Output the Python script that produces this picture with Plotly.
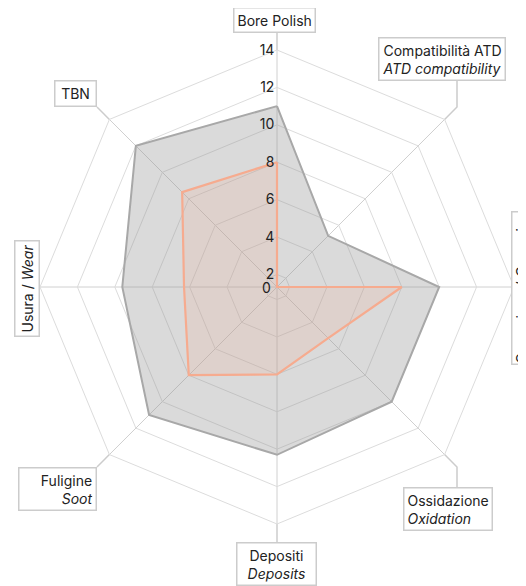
import plotly.graph_objects as go
import math

categories = ["Bore Polish", "Compatibilità ATD", "Corrosione", "Ossidazione",
              "Depositi", "Fuligine", "Usura", "TBN"]
series_gray = [11, 5.2, 10, 10, 10.3, 11, 9.6, 12]
series_orange = [8, 0, 8, 5.2, 6, 8, 6.3, 8.5]
radial_ticks = [2, 4, 6, 8, 10, 12, 14]

W, H = 526, 586
OFF = 8  # page body margin
CX, CY, R = 277, 287, 237

def px(x):
    return (x - OFF) / W

def py(y):
    return 1 - (y - OFF) / H

theta = categories + [categories[0]]

fig = go.Figure()
fig.add_trace(go.Scatterpolar(
    r=series_gray + [series_gray[0]], theta=theta, mode="lines",
    line=dict(color="#a8a8a8", width=2), fill="toself",
    fillcolor="rgba(150,150,150,0.35)", hoverinfo="skip", showlegend=False))
fig.add_trace(go.Scatterpolar(
    r=series_orange + [series_orange[0]], theta=theta, mode="lines",
    line=dict(color="#f6ab8f", width=2.2), fill="toself",
    fillcolor="rgba(246,173,146,0.18)", hoverinfo="skip", showlegend=False))

fig.update_layout(
    width=W, height=H, margin=dict(l=0, r=0, t=0, b=0),
    paper_bgcolor="white", plot_bgcolor="white",
    font=dict(family="Inter, Roboto, sans-serif", size=14, color="#222"),
    polar=dict(
        domain=dict(x=[px(CX - R), px(CX + R)], y=[py(CY + R), py(CY - R)]),
        gridshape="linear", bgcolor="white",
        radialaxis=dict(range=[1.33, 14], tickvals=radial_ticks, angle=90,
                        tickangle=90, showline=False, gridcolor="#dcdcdc", gridwidth=1,
                        tickfont=dict(size=14, color="#222"), ticks="",
                        side="counterclockwise"),
        angularaxis=dict(direction="clockwise", rotation=90, showticklabels=False,
                         ticks="", gridcolor="#d0d0d0", linecolor="#dcdcdc",
                         showline=True),
    ),
)

# label boxes
box = dict(bordercolor="#cccccc", borderwidth=1.5, borderpad=3, bgcolor="white",
           showarrow=False, xref="paper", yref="paper", font=dict(size=14, color="#222"))
anns = [
    dict(text="Bore Polish", x=px(274), y=py(33), xanchor="center", yanchor="bottom"),
    dict(text="Compatibilità ATD<br><i>ATD compatibility</i>", x=px(378), y=py(81),
         xanchor="left", yanchor="bottom", align="left"),
    dict(text="Corrosione / <i>Corrosion</i>", x=px(511), y=py(288), xanchor="left",
         yanchor="middle", textangle=-90, borderpad=0),
    dict(text="Ossidazione<br><i>Oxidation</i>", x=px(403), y=py(487), xanchor="left",
         yanchor="top", align="left"),
    dict(text="Depositi<br><i>Deposits</i>", x=px(276), y=py(542), xanchor="center",
         yanchor="top", align="center", width=72),
    dict(text="Fuligine<br><i>Soot</i>", x=px(97), y=py(467), xanchor="right",
         yanchor="top", align="right", width=70),
    dict(text="Usura / <i>Wear</i>", x=px(40), y=py(288), xanchor="right",
         yanchor="middle", textangle=-90),
    dict(text="TBN", x=px(97), y=py(107), xanchor="right", yanchor="bottom",
         width=34, height=18),
]
anns = [{**box, **a} for a in anns]
# centre tick label
anns.append(dict(text="0", x=px(273), y=py(287), xanchor="right", yanchor="middle",
                 showarrow=False, xref="paper", yref="paper",
                 font=dict(size=14, color="#222")))
fig.update_layout(annotations=anns)

# leader lines from outer vertices to boxes
d = R / math.sqrt(2)
lc = dict(color="#cccccc", width=1.5)
segs = [
    [(CX, CY - R), (CX, 33)],
    [(CX + d, CY - d), (457, CY - d - 12.5), (457, 81)],
    [(CX + d, CY + d), (457, CY + d + 12.5), (457, 487)],
    [(CX, CY + R), (CX, 542)],
    [(CX - d, CY + d), (97, 467)],
    [(CX - d, CY - d), (97, 107)],
    [(CX + R, CY), (512, CY)],
]
shapes = []
for s in segs:
    path = "M " + " L ".join(f"{px(x)},{py(y)}" for x, y in s)
    shapes.append(dict(type="path", path=path, xref="paper", yref="paper", line=lc, layer="below"))
fig.update_layout(shapes=shapes)

fig.write_html("out.html")
